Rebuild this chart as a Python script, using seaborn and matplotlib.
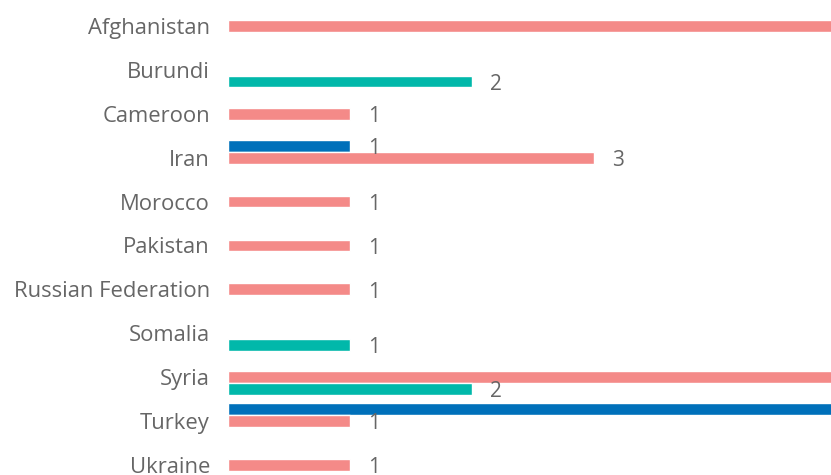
import numpy as np
import pandas as pd
import matplotlib
matplotlib.use("Agg")
import matplotlib.pyplot as plt
import seaborn as sns

# ---- data ----
countries = ["Afghanistan", "Burundi", "Cameroon", "Iran", "Morocco", "Pakistan",
             "Russian Federation", "Somalia", "Syria", "Turkey", "Ukraine"]
series_names = ["Series 1", "Series 2", "Series 3"]
series_1 = [np.nan, np.nan, np.nan, 1, np.nan, np.nan, np.nan, np.nan, np.nan, 6, np.nan]   # blue
series_2 = [6, np.nan, 1, 3, 1, 1, 1, np.nan, 6, 1, 1]                                       # pink
series_3 = [np.nan, 2, np.nan, np.nan, np.nan, np.nan, np.nan, 1, 2, np.nan, np.nan]         # teal
colors = ["#0070BA", "#F48A88", "#01B8AA"]

rows = []
for name, vals in zip(series_names, [series_1, series_2, series_3]):
    for c, v in zip(countries, vals):
        if not np.isnan(v):
            rows.append({"country": c, "series": name, "value": v})
df = pd.DataFrame(rows)

sns.set_style("white")
plt.rcParams["font.family"] = ["Open Sans", "DejaVu Sans"]

fig = plt.figure(figsize=(8.31, 4.75), dpi=100)
px_per_unit = 122.0
xmax = 8.0
left_px = 228
top_px = 26 - 22
n = len(countries)
height_px = n * 43.9
ax = fig.add_axes([left_px / 831, (475 - top_px - height_px) / 475,
                   xmax * px_per_unit / 831, height_px / 475])

sns.barplot(data=df, y="country", x="value", hue="series", order=countries,
            hue_order=series_names, palette=colors, orient="h", width=0.8,
            dodge=True, ax=ax, legend=False, errorbar=None, saturation=1)

ax.set_xlim(0, xmax)
ax.set_ylim(n - 0.5, -0.5)
for s in ax.spines.values():
    s.set_visible(False)
ax.set_xlabel("")
ax.set_ylabel("")
ax.set_xticks([])
ax.tick_params(axis="y", length=0, pad=13, labelsize=15.8, labelcolor="#666666")

fig_right_units = (831 - left_px) / px_per_unit
for cont in ax.containers:
    for bar in cont:
        w = bar.get_width()
        if np.isnan(w) or w <= 0:
            continue
        if w + 0.3 > fig_right_units:
            continue  # label lies beyond the visible canvas
        ax.annotate(f"{w:g}", xy=(w, bar.get_y() + bar.get_height() / 2),
                    xytext=(13, -2), textcoords="offset points",
                    ha="left", va="center", fontsize=15, color="#666666")

fig.savefig("out.png", dpi=100)
